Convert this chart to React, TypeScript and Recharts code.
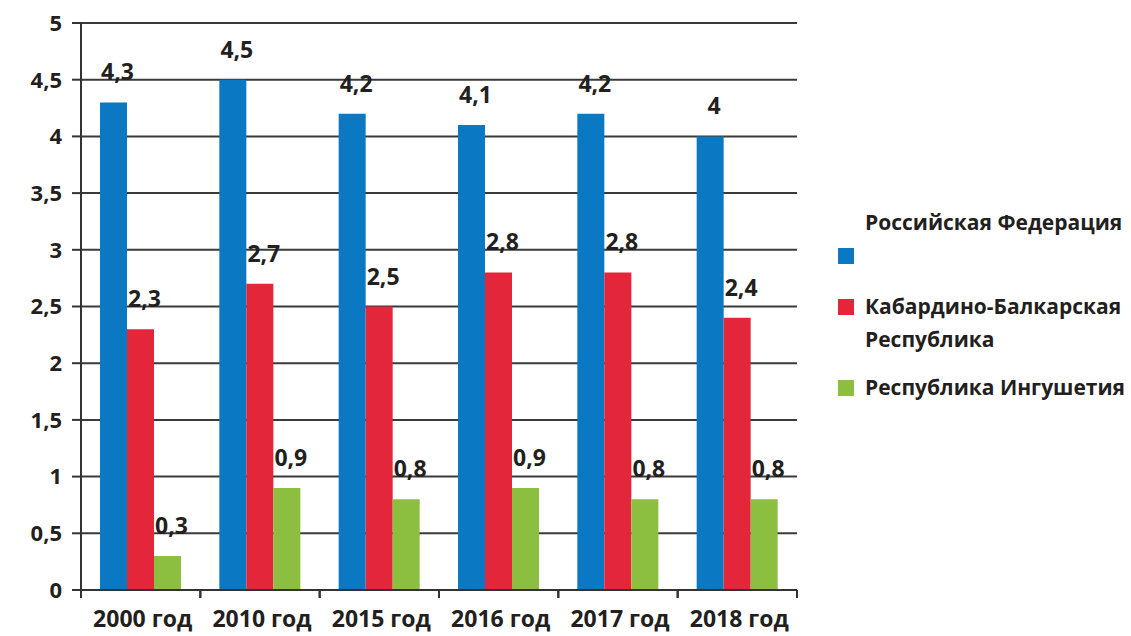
import { BarChart, Bar, XAxis, YAxis, CartesianGrid, LabelList } from 'recharts';

const years = ['2000 год', '2010 год', '2015 год', '2016 год', '2017 год', '2018 год'];
const russia = [4.3, 4.5, 4.2, 4.1, 4.2, 4];
const kbr = [2.3, 2.7, 2.5, 2.8, 2.8, 2.4];
const ingushetia = [0.3, 0.9, 0.8, 0.9, 0.8, 0.8];
const yTicks = [0, 0.5, 1, 1.5, 2, 2.5, 3, 3.5, 4, 4.5, 5];

const SERIES = [
  { key: 'rf', name: 'Российская Федерация', color: '#0a78c2' },
  { key: 'kbr', name: 'Кабардино-Балкарская Республика', color: '#e3263a' },
  { key: 'ing', name: 'Республика Ингушетия', color: '#8cbe3f' },
];

const data = years.map((year, i) => ({
  year,
  rf: russia[i],
  kbr: kbr[i],
  ing: ingushetia[i],
}));

const FONT = '"Open Sans", "Noto Sans", sans-serif';
const W = 1131;
const H = 636;
const M = { top: 23, right: 334, bottom: 0, left: 0 };
const X_H = 46;
const Y_W = 81;
const BAND = (W - M.left - M.right - Y_W) / years.length;

const fmt = (v: number) => String(v).replace('.', ',');

// category label in the middle, tick marks on the band edges
const XTick = (props: any) => {
  const { x, y, payload } = props;
  return (
    <g>
      <line x1={x - BAND / 2} y1={y} x2={x - BAND / 2} y2={y + 8} stroke="#333" strokeWidth={2} />
      <line x1={x + BAND / 2} y1={y} x2={x + BAND / 2} y2={y + 8} stroke="#333" strokeWidth={2} />
      <text x={x + 2} y={y + 37} textAnchor="middle" fontFamily={FONT} fontWeight={700} fontSize={23} fill="#231f20">
        {payload.value}
      </text>
    </g>
  );
};

const sq = (color: string, top: number) => (
  <span style={{ position: 'absolute', left: 0, top, width: 16, height: 16, background: color }} />
);

const LegendBox = () => (
  <div
    style={{
      position: 'absolute',
      left: 838,
      top: 206,
      width: 293,
      fontFamily: FONT,
      fontWeight: 700,
      fontSize: 21,
      color: '#231f20',
      lineHeight: '33px',
      whiteSpace: 'nowrap',
    }}
  >
    <div style={{ position: 'relative', height: 70 }}>
      <div style={{ paddingLeft: 27 }}>{SERIES[0].name}</div>
      {sq(SERIES[0].color, 42)}
    </div>
    <div style={{ position: 'relative', marginTop: 14, paddingLeft: 27 }}>
      {sq(SERIES[1].color, 9)}
      Кабардино-Балкарская
      <br />
      Республика
    </div>
    <div style={{ position: 'relative', marginTop: 15, paddingLeft: 27 }}>
      {sq(SERIES[2].color, 9)}
      {SERIES[2].name}
    </div>
  </div>
);

export default function App() {
  return (
    <div style={{ position: 'relative', width: W, height: H, background: '#fff' }}>
      <style>{'body{margin:0}'}</style>
      <BarChart width={W} height={H} data={data} margin={M} barGap={0} barSize={27}>
        <CartesianGrid vertical={false} stroke="#3a3a3a" strokeWidth={2} />
        <XAxis
          dataKey="year"
          axisLine={{ stroke: '#333', strokeWidth: 2 }}
          tickLine={false}
          tickSize={0}
          tickMargin={0}
          tick={<XTick />}
          height={X_H}
          interval={0}
        />
        <YAxis
          domain={[0, 5]}
          ticks={yTicks}
          width={Y_W}
          tickFormatter={fmt}
          axisLine={{ stroke: '#333', strokeWidth: 2 }}
          tickLine={{ stroke: '#333', strokeWidth: 2 }}
          tickSize={9}
          tickMargin={10}
          tick={{ fontFamily: FONT, fontWeight: 700, fontSize: 22, fill: '#231f20' }}
        />
        {SERIES.map((s) => (
          <Bar key={s.key} dataKey={s.key} name={s.name} fill={s.color} isAnimationActive={false}>
            <LabelList
              dataKey={s.key}
              position="top"
              offset={22}
              dx={4}
              formatter={(v: any) => fmt(v)}
              style={{ fontFamily: FONT, fontWeight: 700, fontSize: 23, fill: '#231f20' }}
            />
          </Bar>
        ))}
      </BarChart>
      <LegendBox />
    </div>
  );
}
